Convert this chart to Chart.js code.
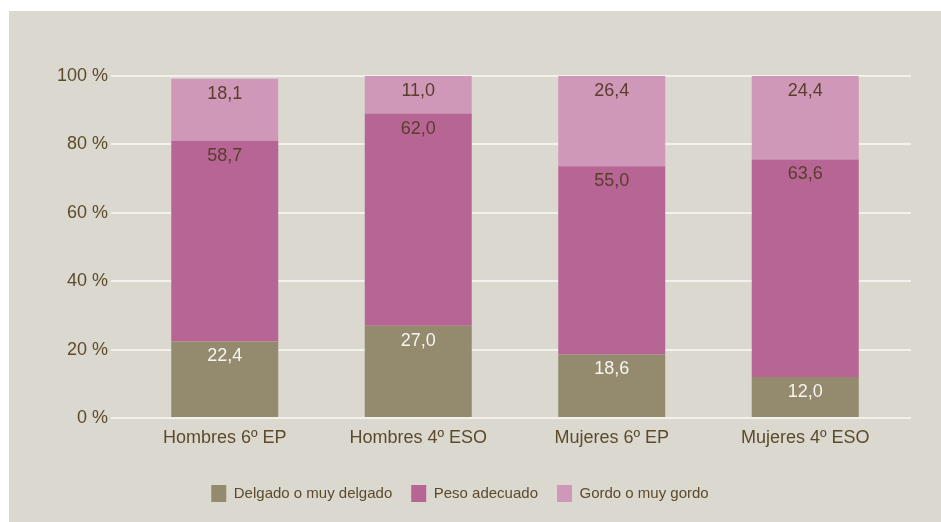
<!DOCTYPE html>
<html>
<head>
<meta charset="utf-8">
<script src="https://cdn.jsdelivr.net/npm/chart.js@4.4.0/dist/chart.umd.min.js"></script>
<style>
  html, body { margin: 0; padding: 0; background: #ffffff; }
  #panel { position: absolute; left: 9px; top: 11px; width: 932px; height: 511px; background: #dbd8d0; }
</style>
</head>
<body>
<div id="panel"><canvas id="grafico"></canvas></div>
<script>
// datos
const categorias = ['Hombres 6º EP', 'Hombres 4º ESO', 'Mujeres 6º EP', 'Mujeres 4º ESO'];
const delgado = [22.4, 27.0, 18.6, 12.0];
const adecuado = [58.7, 62.0, 55.0, 63.6];
const gordo = [18.1, 11.0, 26.4, 24.4];
const ticksY = [0, 20, 40, 60, 80, 100];

const textoColor = '#5c4b2b';
const rejilla = '#f3f1ec';
const fuente = '"Liberation Sans", Arial, sans-serif';

// etiquetas de valor dentro de cada segmento
const etiquetas = {
    id: 'etiquetas',
    afterDatasetsDraw(chart) {
        const ctx = chart.ctx;
        ctx.save();
        ctx.font = '18px ' + fuente;
        ctx.textAlign = 'center';
        ctx.textBaseline = 'middle';
        chart.data.datasets.forEach((ds, i) => {
            const meta = chart.getDatasetMeta(i);
            ctx.fillStyle = ds.colorEtiqueta;
            meta.data.forEach((bar, j) => {
                const txt = ds.data[j].toFixed(1).replace('.', ',');
                ctx.fillText(txt, bar.x, bar.y + 15);
            });
        });
        ctx.restore();
    }
};

const ctx = document.getElementById('grafico').getContext('2d');
new Chart(ctx, {
    type: 'bar',
    data: {
        labels: categorias,
        datasets: [
            { label: 'Delgado o muy delgado', data: delgado, backgroundColor: '#948a6e', colorEtiqueta: '#f7f5f0' },
            { label: 'Peso adecuado', data: adecuado, backgroundColor: '#b76594', colorEtiqueta: '#5a3d2a' },
            { label: 'Gordo o muy gordo', data: gordo, backgroundColor: '#d098b8', colorEtiqueta: '#5a3d2a' }
        ]
    },
    options: {
        responsive: true,
        maintainAspectRatio: false,
        animation: false,
        layout: { padding: { top: 65, right: 30, left: 0, bottom: 10 } },
        datasets: { bar: { categoryPercentage: 0.553, barPercentage: 1.0 } },
        plugins: {
            tooltip: { enabled: false },
            legend: {
                position: 'bottom',
                labels: {
                    boxWidth: 15,
                    boxHeight: 17,
                    padding: 19,
                    color: textoColor,
                    font: { family: fuente, size: 15 }
                }
            }
        },
        scales: {
            x: {
                stacked: true,
                grid: { display: false, drawTicks: false },
                border: { display: false },
                ticks: {
                    color: textoColor,
                    padding: 9,
                    font: { family: fuente, size: 18 }
                },
                afterFit: s => { s.height = 48; }
            },
            y: {
                stacked: true,
                min: 0,
                max: 100,
                afterBuildTicks: s => { s.ticks = ticksY.map(v => ({ value: v })); },
                grid: { color: rejilla, lineWidth: 2, tickLength: 17 },
                border: { display: false },
                ticks: {
                    color: textoColor,
                    padding: 3,
                    font: { family: fuente, size: 18 },
                    callback: v => v + ' %'
                },
                afterFit: s => { s.width = 119; }
            },
            y2: {
                position: 'right',
                min: 0,
                max: 100,
                afterBuildTicks: s => { s.ticks = ticksY.map(v => ({ value: v })); },
                grid: { color: rejilla, lineWidth: 2, tickLength: 9 },
                border: { display: false },
                ticks: { display: false },
                afterFit: s => { s.width = 9; }
            }
        }
    },
    plugins: [etiquetas]
});
</script>
</body>
</html>
